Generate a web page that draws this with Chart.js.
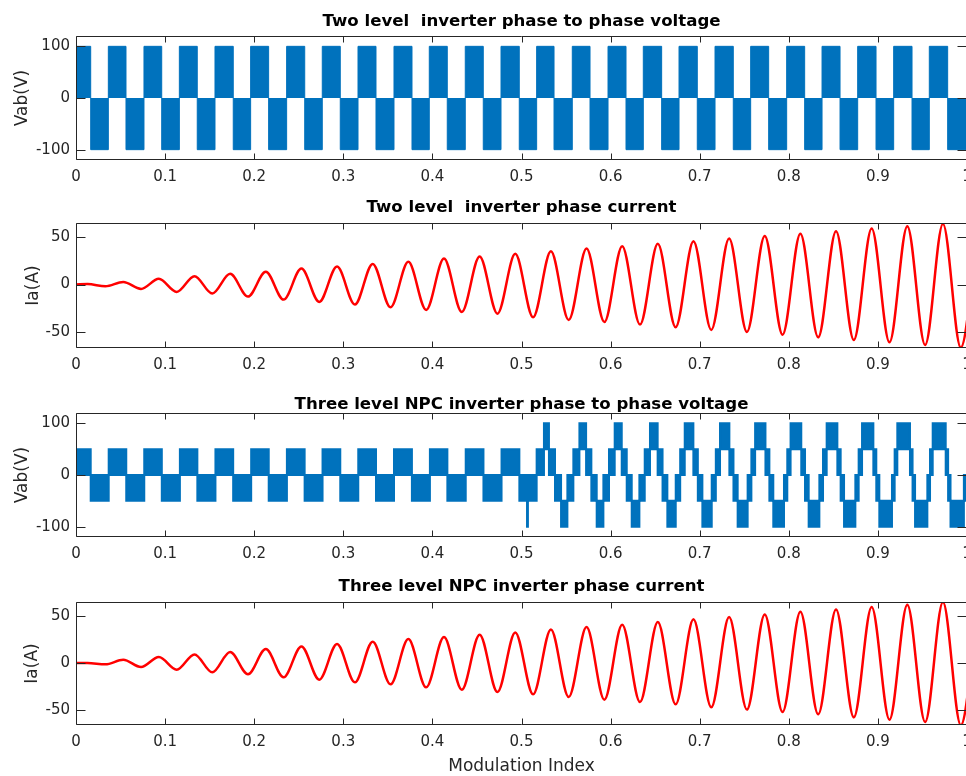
<!DOCTYPE html>
<html lang="en">
<head>
<meta charset="UTF-8">
<title>Two level vs three level NPC inverter</title>
<style>
  html, body { margin: 0; padding: 0; background: #fff; overflow: hidden; }
  body { width: 966px; height: 776px; position: relative; }
  .panel { position: absolute; left: 0; width: 980px; }
</style>
</head>
<body>
<div class="panel" style="top:13px;height:177px"><canvas id="c1" width="980" height="177"></canvas></div>
<div class="panel" style="top:199px;height:179px"><canvas id="c2" width="980" height="179"></canvas></div>
<div class="panel" style="top:396px;height:171px"><canvas id="c3" width="980" height="171"></canvas></div>
<div class="panel" style="top:578px;height:197px"><canvas id="c4" width="980" height="197"></canvas></div>

<script src="https://cdn.jsdelivr.net/npm/chart.js@4/dist/chart.umd.min.js"></script>
<script>
// ---- data ----
const xTicks = [0, 0.1, 0.2, 0.3, 0.4, 0.5, 0.6, 0.7, 0.8, 0.9, 1];
const voltTicks = [-100, 0, 100];
const currTicks = [-50, 0, 50];

// two level line voltage: switching edges and the level held from each edge
const twoLevelTimes = [
  0, 0.0165, 0.0363, 0.0561, 0.0763, 0.0962, 0.1160, 0.1361, 0.1560, 0.1765,
  0.1960, 0.2162, 0.2364, 0.2567, 0.2764, 0.2966, 0.3165, 0.3367, 0.3569, 0.3771,
  0.3965, 0.4167, 0.4369, 0.4571, 0.4770, 0.4975, 0.5170, 0.5365, 0.5570, 0.5769,
  0.5971, 0.6173, 0.6367, 0.6573, 0.6768, 0.6973, 0.7172, 0.7377, 0.7572, 0.7774,
  0.7976, 0.8178, 0.8373, 0.8575, 0.8773, 0.8979, 0.9177, 0.9383, 0.9577, 0.9783, 1.0
];
const twoLevelVolts = [
  100, -100, 100, -100, 100, -100, 100, -100, 100, -100,
  100, -100, 100, -100, 100, -100, 100, -100, 100, -100,
  100, -100, 100, -100, 100, -100, 100, -100, 100, -100,
  100, -100, 100, -100, 100, -100, 100, -100, 100, -100,
  100, -100, 100, -100, 100, -100, 100, -100, 100, -100, -100
];

// three level NPC line voltage: edges with upper / lower level of each band
const npcTimes = [
  0, 0.0165, 0.0367, 0.0564, 0.0766, 0.0963, 0.1166, 0.1362, 0.1565, 0.1764,
  0.1966, 0.2163, 0.2367, 0.2566, 0.2767, 0.2966, 0.3168, 0.3367, 0.3569, 0.3770,
  0.3972, 0.4168, 0.4374, 0.4573, 0.4776, 0.4976, 0.5062, 0.5072, 0.5170,
  0.5252, 0.5308, 0.5376, 0.5444, 0.5515, 0.5582,
  0.5650, 0.5725, 0.5784, 0.5844, 0.5919, 0.5982,
  0.6046, 0.6125, 0.6181, 0.6237, 0.6323, 0.6383,
  0.6442, 0.6528, 0.6583, 0.6637, 0.6731, 0.6781,
  0.6832, 0.6929, 0.6979, 0.7030, 0.7135, 0.7181,
  0.7228, 0.7333, 0.7379, 0.7426, 0.7538, 0.7580,
  0.7622, 0.7738, 0.7782, 0.7826, 0.7946, 0.7983,
  0.8020, 0.8140, 0.8182, 0.8223, 0.8343, 0.8384,
  0.8425, 0.8545, 0.8582, 0.8620, 0.8747, 0.8784,
  0.8822, 0.8949, 0.8982, 0.9016, 0.9158, 0.9188,
  0.9218, 0.9360, 0.9389, 0.9417, 0.9555, 0.9585,
  0.9615, 0.9761, 0.9788, 0.9815, 0.9965, 1.0
];
const npcUpper = [
  50, 0, 50, 0, 50, 0, 50, 0, 50, 0,
  50, 0, 50, 0, 50, 0, 50, 0, 50, 0,
  50, 0, 50, 0, 50, 0, 0, 0, 50,
  100, 50, 0, -50, 0, 50,
  100, 50, 0, -50, 0, 50,
  100, 50, 0, -50, 0, 50,
  100, 50, 0, -50, 0, 50,
  100, 50, 0, -50, 0, 50,
  100, 50, 0, -50, 0, 50,
  100, 50, 0, -50, 0, 50,
  100, 50, 0, -50, 0, 50,
  100, 50, 0, -50, 0, 50,
  100, 50, 0, -50, 0, 50,
  100, 50, 0, -50, 0, 50,
  100, 50, 0, -50, 0, 0
];
const npcLower = [
  0, -50, 0, -50, 0, -50, 0, -50, 0, -50,
  0, -50, 0, -50, 0, -50, 0, -50, 0, -50,
  0, -50, 0, -50, 0, -50, -100, -50, 0,
  50, 0, -50, -100, -50, 0,
  50, 0, -50, -100, -50, 0,
  50, 0, -50, -100, -50, 0,
  50, 0, -50, -100, -50, 0,
  50, 0, -50, -100, -50, 0,
  50, 0, -50, -100, -50, 0,
  50, 0, -50, -100, -50, 0,
  50, 0, -50, -100, -50, 0,
  50, 0, -50, -100, -50, 0,
  50, 0, -50, -100, -50, 0,
  50, 0, -50, -100, -50, 0,
  50, 0, -50, -100, -50, -50
];

// phase currents: start, then alternating peaks / troughs
const currentTimes = [
  0, 0.013, 0.033, 0.053, 0.073, 0.093, 0.113, 0.133, 0.153, 0.173,
  0.193, 0.213, 0.233, 0.253, 0.273, 0.293, 0.313, 0.333, 0.353, 0.373,
  0.393, 0.413, 0.433, 0.453, 0.473, 0.493, 0.513, 0.533, 0.553, 0.573,
  0.593, 0.613, 0.633, 0.653, 0.673, 0.693, 0.713, 0.733, 0.753, 0.773,
  0.793, 0.813, 0.833, 0.853, 0.873, 0.893, 0.913, 0.933, 0.953, 0.973,
  0.993, 1.013
];
const twoLevelCurrent = [
  0, 0.5, -1.8, 2.8, -4.6, 6.0, -7.8, 8.8, -9.5, 11.3,
  -12.7, 13.4, -15.9, 16.9, -18.3, 19.0, -21.1, 21.8, -24.0, 24.0,
  -26.8, 27.5, -28.9, 29.6, -30.7, 32.4, -34.5, 35.2, -37.4, 38.0,
  -39.5, 40.5, -42.3, 43.0, -45.1, 45.8, -47.9, 48.6, -50.0, 51.4,
  -52.9, 53.6, -55.7, 56.4, -58.5, 59.2, -61.0, 61.7, -63.8, 64.1,
  -66.6, 67.0
];
const npcCurrent = [
  0, 0, -1.4, 3.5, -4.3, 6.4, -7.1, 9.2, -9.9, 11.7,
  -12.0, 14.9, -15.2, 17.7, -17.7, 20.2, -20.6, 22.7, -22.7, 25.5,
  -25.9, 27.7, -28.4, 30.2, -30.9, 32.6, -33.3, 35.8, -36.2, 38.3,
  -39.0, 40.8, -41.5, 43.6, -44.0, 46.5, -47.2, 48.9, -49.6, 51.8,
  -52.1, 54.6, -54.6, 57.1, -57.8, 59.6, -60.3, 62.0, -62.8, 64.9,
  -66.3, 67.0
];

// ---- styling ----
const FONT = 'DejaVu Sans';
const BLUE = '#0072BD';
const RED = '#FF0000';
const AXIS = '#262626';

const pts = (xs, ys) => xs.map((x, i) => ({ x: x, y: ys[i] }));

// matlab style box with inward ticks on all four sides
const boxTicks = {
  id: 'boxTicks',
  afterDatasetsDraw(chart) {
    const { ctx, chartArea: a, scales } = chart;
    const L = Math.round(a.left) + 0.5, R = Math.round(a.right) - 0.5;
    const T = Math.round(a.top) + 0.5, B = Math.round(a.bottom) - 0.5;
    ctx.save();
    ctx.strokeStyle = AXIS;
    ctx.lineWidth = 1;
    ctx.beginPath();
    ctx.rect(L, T, R - L, B - T);
    scales.x.ticks.forEach(t => {
      const px = Math.round(scales.x.getPixelForValue(t.value)) + 0.5;
      ctx.moveTo(px, B); ctx.lineTo(px, B - 6);
      ctx.moveTo(px, T); ctx.lineTo(px, T + 6);
    });
    scales.y.ticks.forEach(t => {
      const py = Math.round(scales.y.getPixelForValue(t.value)) + 0.5;
      ctx.moveTo(L, py); ctx.lineTo(L + 9, py);
      ctx.moveTo(R, py); ctx.lineTo(R - 9, py);
    });
    ctx.stroke();
    ctx.restore();
  }
};

function makeChart(id, cfg) {
  return new Chart(document.getElementById(id), {
    type: 'line',
    data: { datasets: cfg.datasets },
    plugins: [boxTicks],
    options: {
      responsive: false,
      animation: false,
      events: [],
      layout: { padding: { left: 0, right: 13, top: 0, bottom: 0 } },
      plugins: {
        legend: { display: false },
        tooltip: { enabled: false },
        title: {
          display: true,
          text: cfg.title,
          color: '#000',
          fullSize: false,
          font: { family: FONT, size: 16.6, weight: 'bold', lineHeight: 1 },
          padding: { top: 0, bottom: cfg.titlePad }
        }
      },
      scales: {
        x: {
          type: 'linear',
          min: 0,
          max: 1,
          grid: { display: false, drawTicks: false },
          border: { display: false },
          afterBuildTicks: s => { s.ticks = xTicks.map(v => ({ value: v })); },
          afterFit: s => { s.height = cfg.xHeight; s.paddingLeft = 0; s.paddingRight = 0; },
          ticks: {
            color: AXIS, padding: 8, maxRotation: 0, autoSkip: false,
            font: { family: FONT, size: 15 },
            callback: v => String(v)
          },
          title: {
            display: !!cfg.xTitle,
            text: cfg.xTitle || '',
            color: AXIS,
            font: { family: FONT, size: 17, lineHeight: 1 },
            padding: { top: 0, bottom: 0 }
          }
        },
        y: {
          type: 'linear',
          min: cfg.yMin,
          max: cfg.yMax,
          grid: { display: false, drawTicks: false },
          border: { display: false },
          afterBuildTicks: s => { s.ticks = cfg.yTicks.map(v => ({ value: v })); },
          afterFit: s => { s.width = 76; s.paddingTop = 0; s.paddingBottom = 0; },
          ticks: {
            color: AXIS, padding: 6,
            font: { family: FONT, size: 15 },
            callback: v => String(v)
          },
          title: {
            display: true,
            text: cfg.yLabel,
            color: AXIS,
            font: { family: FONT, size: 17, lineHeight: 1.2 },
            padding: { top: cfg.yTitlePad, bottom: 0 }
          }
        }
      }
    }
  });
}

makeChart('c1', {
  title: 'Two level  inverter phase to phase voltage',
  titlePad: 6.4, xHeight: 30,
  yLabel: 'Vab(V)', yTitlePad: 12,
  yMin: -120, yMax: 120, yTicks: voltTicks,
  datasets: [{
    data: pts(twoLevelTimes, twoLevelVolts),
    stepped: true, fill: 'origin',
    borderColor: BLUE, backgroundColor: BLUE,
    borderWidth: 1, pointRadius: 0
  }]
});

makeChart('c2', {
  title: 'Two level  inverter phase current',
  titlePad: 7.4, xHeight: 30,
  yLabel: 'Ia(A)', yTitlePad: 23,
  yMin: -67, yMax: 65, yTicks: currTicks,
  datasets: [{
    data: pts(currentTimes, twoLevelCurrent),
    borderColor: RED, borderWidth: 2.5, pointRadius: 0,
    cubicInterpolationMode: 'monotone', fill: false
  }]
});

makeChart('c3', {
  title: 'Three level NPC inverter phase to phase voltage',
  titlePad: 0.4, xHeight: 30,
  yLabel: 'Vab(V)', yTitlePad: 12,
  yMin: -120, yMax: 120, yTicks: voltTicks,
  datasets: [
    {
      data: pts(npcTimes, npcUpper),
      stepped: true, fill: '+1',
      borderColor: BLUE, backgroundColor: BLUE,
      borderWidth: 2, pointRadius: 0
    },
    {
      data: pts(npcTimes, npcLower),
      stepped: true, fill: false,
      borderColor: BLUE, backgroundColor: BLUE,
      borderWidth: 2, pointRadius: 0
    }
  ]
});

makeChart('c4', {
  title: 'Three level NPC inverter phase current',
  titlePad: 7.4, xHeight: 50, xTitle: 'Modulation Index',
  yLabel: 'Ia(A)', yTitlePad: 22,
  yMin: -66, yMax: 65, yTicks: currTicks,
  datasets: [{
    data: pts(currentTimes, npcCurrent),
    borderColor: RED, borderWidth: 2.5, pointRadius: 0,
    cubicInterpolationMode: 'monotone', fill: false
  }]
});
</script>
</body>
</html>
